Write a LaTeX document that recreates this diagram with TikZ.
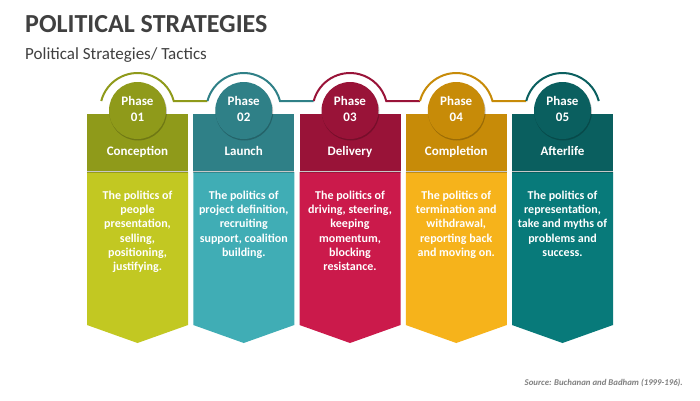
\documentclass[tikz,border=0pt]{standalone}
\usepackage{fontspec}
\setmainfont{Carlito}
\definecolor{txtgray}{HTML}{404040}
\definecolor{srcgray}{HTML}{7F7F7F}
\definecolor{cAd}{HTML}{8F9A1A}
\definecolor{cAl}{HTML}{C2C822}
\definecolor{cBd}{HTML}{2F8087}
\definecolor{cBl}{HTML}{40ADB5}
\definecolor{cCd}{HTML}{991338}
\definecolor{cCl}{HTML}{CB1A4B}
\definecolor{cDd}{HTML}{C78B08}
\definecolor{cDl}{HTML}{F6B31B}
\definecolor{cEd}{HTML}{0A5F5F}
\definecolor{cEl}{HTML}{087A7A}
\tikzset{
  titletext/.style={inner sep=0pt, anchor=base west, text=txtgray, font=\fontsize{26}{30}\selectfont\bfseries},
  subtext/.style={inner sep=0pt, anchor=base west, text=txtgray, font=\fontsize{17}{20}\selectfont},
  phasetext/.style={inner sep=0pt, anchor=base, text=white, font=\fontsize{13}{15}\selectfont\bfseries},
  labeltext/.style={inner sep=0pt, anchor=base, text=white, font=\fontsize{13}{15}\selectfont\bfseries},
  bodytext/.style={inner sep=0pt, anchor=north, text=white, align=center, font=\fontsize{12}{14.3}\selectfont\bfseries},
  sourcetext/.style={inner sep=0pt, anchor=base east, text=srcgray, font=\fontsize{8.8}{10}\selectfont\bfseries\itshape},
  arcline/.style={line width=2pt},
  shadowfill/.style={fill=black, opacity=0.22},
}
\begin{document}
\begin{tikzpicture}[x=1pt,y=1pt]
\fill[white] (0,0) rectangle (700,400);
\useasboundingbox (0,0) rectangle (700,400);
\node[titletext] (title) at (25,367) {POLITICAL STRATEGIES};
\node[subtext] (subtitle) at (25,341) {Political Strategies/ Tactics};
\foreach \i/\nm/\dk/\lt/\bd in {
  1/Conception/cAd/cAl/{The politics of\\people\\presentation,\\selling,\\positioning,\\justifying.},
  2/Launch/cBd/cBl/{The politics of\\project definition,\\recruiting\\support, coalition\\building.},
  3/Delivery/cCd/cCl/{The politics of\\driving, steering,\\keeping\\momentum,\\blocking\\resistance.},
  4/Completion/cDd/cDl/{The politics of\\termination and\\withdrawal,\\reporting back\\and moving on.},
  5/Afterlife/cEd/cEl/{The politics of\\representation,\\take and myths of\\problems and\\success.}}{
  \pgfmathsetmacro\cx{137.5+106.25*(\i-1)}
  \pgfmathsetmacro\nx{\cx+106.25}
  % lower arrow-shaped panel
  \fill[\lt] (\cx-50.5,228) -- (\cx+50.5,228) -- (\cx+50.5,75) -- (\cx,57) -- (\cx-50.5,75) -- cycle;
  % upper panel with shadow
  \fill[shadowfill] (\cx-50.5,230) rectangle (\cx+50.5,227.5);
  \fill[\dk] (\cx-50.5,286) rectangle (\cx+50.5,229.5);
  % arc and connecting line
  \coordinate (arcL\i) at (\cx-36.27,299);
  \ifnum\i<5
    \coordinate (lnE\i) at (\nx-36.27,299);
    \draw[arcline,\dk] (arcL\i) arc (165.3:14.7:37.5) -- (lnE\i);
  \else
    \draw[arcline,\dk] (arcL\i) arc (165.3:14.7:37.5);
  \fi
  % circle badge
  \fill[shadowfill] (\cx+0.6,288.3) circle (28.8);
  \fill[\dk] (\cx,289.5) circle (28.5);
  \node[phasetext] (ph\i) at (\cx,294.3) {Phase};
  \node[phasetext] (num\i) at (\cx,279) {0\i};
  \node[labeltext] (lab\i) at (\cx,244.3) {\nm};
  \node[bodytext] (body\i) at (\cx,209.5) {\bd};
}
\node[sourcetext] (source) at (683,15) {Source: Buchanan and Badham (1999-196).};
\end{tikzpicture}
\end{document}
